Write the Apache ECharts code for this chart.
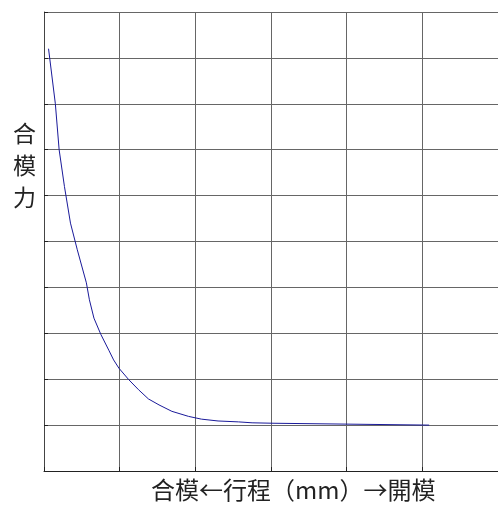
<!DOCTYPE html>
<html>
<head>
<meta charset="utf-8">
<script src="https://cdn.jsdelivr.net/npm/echarts@6/dist/echarts.min.js"></script>
<style>
html,body{margin:0;padding:0;background:#fff;}
#c{width:498px;height:510px;}
</style>
</head>
<body>
<div id="c"></div>
<script>
// Stroke (mm) and clamping force readings
const strokeX = [0.06, 0.15, 0.20, 0.27, 0.35, 0.44, 0.56, 0.60, 0.66, 0.75, 0.86, 0.92, 0.99, 1.12, 1.25, 1.38, 1.52, 1.69, 1.91, 2.08, 2.30, 2.57, 2.75, 3.04, 3.06, 5.09];
const forceY  = [9.2, 8.0, 7.0, 6.2, 5.4, 4.82, 4.1, 3.73, 3.33, 2.98, 2.62, 2.42, 2.24, 1.99, 1.77, 1.57, 1.44, 1.30, 1.19, 1.13, 1.09, 1.07, 1.05, 1.04, 1.0, 1.0];
const yAxisTitle = '合\n模\n力';
const xAxisTitle = '合模←行程（mm）→開模';

const chart = echarts.init(document.getElementById('c'), null, {renderer: 'canvas'});
const font = '"Noto Sans CJK TC", "Noto Sans CJK SC", sans-serif';
chart.setOption({
  animation: false,
  backgroundColor: '#fff',
  grid: {left: 44, right: -4, top: 12, bottom: 39},
  xAxis: {
    type: 'value', min: 0, max: 6, interval: 1,
    axisLine: {show: true, lineStyle: {color: '#222', width: 1}},
    axisTick: {show: true, inside: true, length: 4, lineStyle: {color: '#222'}},
    axisLabel: {show: false},
    splitLine: {show: true, lineStyle: {color: '#666', width: 1}}
  },
  yAxis: {
    type: 'value', min: 0, max: 10, interval: 1,
    axisLine: {show: true, lineStyle: {color: '#444', width: 1}},
    axisTick: {show: true, inside: true, length: 4, lineStyle: {color: '#222'}},
    axisLabel: {show: false},
    splitLine: {show: true, lineStyle: {color: '#666', width: 1}}
  },
  graphic: [
    {type: 'text', left: 13, top: 117, style: {text: yAxisTitle, font: '23px ' + font, lineHeight: 32, fill: '#222', align: 'center'}},
    {type: 'text', left: 151, top: 478, style: {text: xAxisTitle, font: '24px ' + font, fill: '#222'}}
  ],
  series: [{
    type: 'line',
    data: strokeX.map((x, i) => [x, forceY[i]]),
    showSymbol: false,
    smooth: false,
    lineStyle: {color: '#1a1a9a', width: 1},
    itemStyle: {color: '#1a1a9a'}
  }]
});
</script>
</body>
</html>
